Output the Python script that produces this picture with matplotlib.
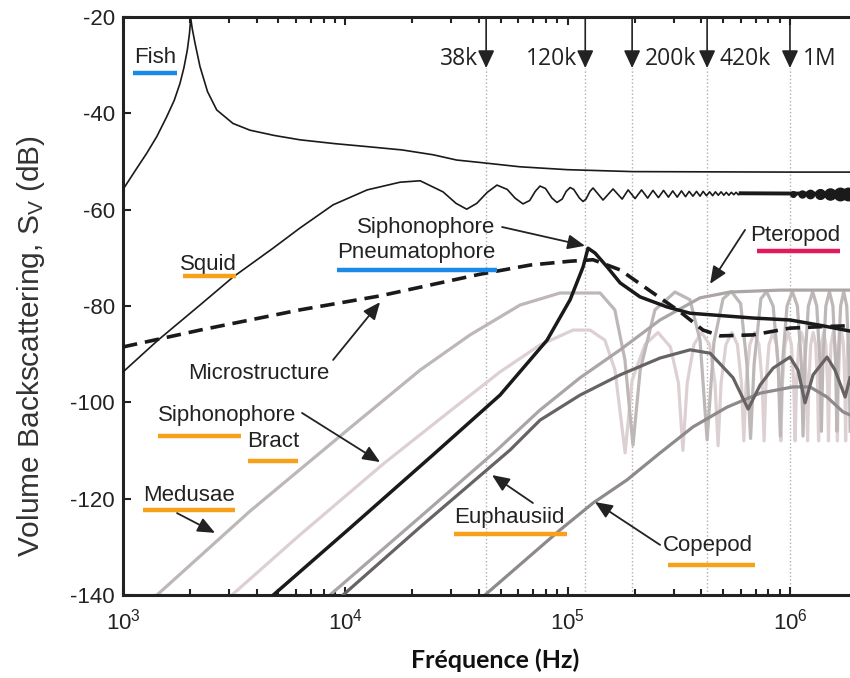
import matplotlib
matplotlib.use('Agg')
import matplotlib.pyplot as plt

plt.rcParams['font.family'] = ['Liberation Sans', 'DejaVu Sans']
plt.rcParams['mathtext.default'] = 'regular'
plt.rcParams['axes.unicode_minus'] = False

# ---------------- data (Hz, dB) ----------------
fish_f = [1000, 1150, 1278, 1420, 1573, 1700, 1804, 1880, 1946, 1990, 2017, 2050, 2110,
          2220, 2400, 2640, 3124, 3724, 4800, 6256, 9000, 12480, 18000, 24810, 31700,
          40370, 61090, 100000, 196700, 1000000, 1860000]
fish_db = [-55.8, -51.5, -48.3, -44.8, -40.7, -37.3, -33.8, -30.5, -26.9, -23.5, -20.3,
           -22.5, -25.5, -30.3, -35.5, -39.3, -42.1, -43.5, -44.6, -45.5, -46.3, -46.9,
           -47.6, -48.6, -49.7, -50.2, -51.1, -51.7, -52.1, -52.2, -52.2]

squid_f = [1000, 1436, 2220, 3124, 4730, 6256, 8810, 12530, 17620, 21700,
           27500, 31500, 35150, 39000, 43500, 48100, 53500, 58000, 62970, 67500, 71500,
           75100, 79500, 85000, 89550, 94500, 98500, 102600, 106500, 113000, 117300,
           121000, 126000, 130100, 144300, 160000, 175900, 187100,
           201000, 215000, 229000, 242000, 256000, 270000, 284000, 297000, 311000, 325000,
           339000, 352000, 366000, 380000, 394000, 407000, 421000, 435000, 449000, 462000,
           476000, 490000, 504000, 517000, 531000, 545000, 559000, 572000, 586000, 600000]
squid_db = [-93.7, -87.1, -79.8, -74.0, -68.0, -63.8, -59.0, -55.9, -54.3, -54.0,
            -56.3, -58.7, -59.9, -58.7, -56.4, -54.9, -55.8, -57.6, -58.8, -58.1, -56.2,
            -55.1, -55.6, -57.6, -58.5, -57.8, -56.2, -55.4, -55.8, -57.6, -58.3,
            -57.8, -56.2, -55.5, -58.0, -55.7, -57.8, -55.9,
            -57.7, -55.9, -57.6, -56.0, -57.5, -56.0, -57.4, -56.1, -57.4, -56.1,
            -57.3, -56.2, -57.2, -56.2, -57.2, -56.2, -57.1, -56.3, -57.1, -56.3,
            -57.0, -56.3, -57.0, -56.4, -57.0, -56.4, -56.9, -56.4, -56.9, -56.5]
squid_band_f = [600000, 1860000]
squid_band_db = [-56.6, -56.7]
squid_blob_f = [1030000, 1130000, 1230000, 1360000, 1510000, 1680000, 1830000]
squid_blob_size = [4, 5, 6, 7, 8, 9, 9]

pneu_f = [4480, 10500, 24810, 49630, 80770, 102600, 117300, 123500, 132800, 150000,
          172200, 211600, 280000, 355500, 682700, 1000000, 1365000, 1862000]
pneu_db = [-141, -126.1, -110.9, -98.5, -87.1, -78.7, -71.9, -68.0, -69.0, -71.8,
           -75.2, -78.1, -80.2, -81.5, -82.5, -82.9, -84.0, -85.2]

micro_f = [1000, 2220, 6256, 14330, 40370, 67800, 102600, 130100, 172200, 242300,
           320400, 406400, 485000, 682700, 1000000, 1365000, 1862000]
micro_db = [-88.5, -85.0, -80.8, -77.9, -73.4, -71.5, -70.7, -70.4, -72.5, -77.3,
            -81.2, -85.0, -86.2, -86.0, -84.6, -84.3, -84.1]

medusae_f = [1422, 3724, 10500, 21700, 36400, 61100, 92400, 140000, 163000, 181000,
             196700, 212000, 247000, 304000, 355000, 394000, 424000, 455000, 500000,
             545000, 600000, 640000, 665000, 690000, 740000, 785000, 840000, 885000,
             905000, 925000, 970000, 1025000, 1080000, 1125000, 1145000, 1165000,
             1210000, 1265000, 1320000, 1365000, 1385000, 1405000, 1450000, 1505000,
             1560000, 1605000, 1625000, 1645000, 1690000, 1745000, 1800000, 1845000, 1865000]
medusae_db = [-140, -122.6, -105.3, -93.3, -86.0, -79.8, -77.3, -77.3, -80.8, -91.2,
              -108.9, -93.3, -80.8, -77.1, -78.7, -87.1, -107.8, -87.5, -78.5,
              -77.0, -79.5, -92, -107.5, -92, -78.5, -77.0, -80, -92,
              -107, -92, -80, -77.0, -80, -92, -107, -92,
              -80, -77, -80, -92, -106, -92, -80, -77,
              -80, -92, -106, -92, -80, -77, -80, -92, -106]

bract_f = [3090, 6256, 14800, 29600, 49600, 75100, 105700, 126200, 147100, 163300,
           181300, 195000, 222700, 255000, 290000, 315000, 330000, 345000, 370000,
           400000, 435000, 460000, 475000, 490000, 515000, 548000, 580000, 605000,
           620000, 635000, 660000, 692000, 725000, 750000, 765000, 780000, 805000,
           838000, 870000, 895000, 910000, 925000, 950000, 982000, 1015000, 1040000,
           1055000, 1070000, 1095000, 1128000, 1160000, 1185000, 1200000, 1215000,
           1240000, 1272000, 1305000, 1330000, 1345000, 1360000, 1385000, 1418000,
           1450000, 1475000, 1490000, 1505000, 1530000, 1562000, 1595000, 1620000,
           1635000, 1650000, 1675000, 1708000, 1740000, 1765000, 1780000, 1795000,
           1820000, 1850000]
bract_db = [-140, -127.5, -112.8, -101.8, -93.7, -88.1, -85.0, -85.0, -87.1, -93.3,
            -110.5, -95.4, -88.0, -85.5, -88.5, -96, -110, -96, -88,
            -85.5, -88, -96, -109, -96, -88, -85.5, -88, -96,
            -108, -96, -88, -85.5, -88, -96, -108, -96, -88,
            -85.5, -88, -96, -108, -96, -88, -85.5, -88, -96,
            -108, -96, -88, -85.5, -88, -96, -108, -96,
            -88, -85.5, -88, -96, -108, -96, -88, -85.5,
            -88, -96, -108, -96, -88, -85.5, -88, -96,
            -108, -96, -88, -85.5, -88, -96, -108, -96,
            -88, -85.5]

ptero_f = [8530, 21700, 48100, 75100, 113700, 172200, 260500, 394300, 538000, 902200, 1862000]
ptero_db = [-140, -123.8, -109.9, -101.6, -94.9, -89.1, -82.9, -78.3, -77.1, -76.7, -76.7]

euph_f = [9770, 21700, 55070, 75100, 113700, 172200, 260500, 355500, 437200, 554800,
          648500, 734300, 839700, 1000000, 1087000, 1169000, 1270000, 1468000, 1594000,
          1771000, 1862000]
euph_db = [-140, -125.9, -109.9, -103.7, -98.5, -94.3, -90.8, -89.1, -89.8, -94.9,
           -101.4, -96.4, -92.9, -90.6, -93.3, -100.1, -94.3, -90.6, -93.3,
           -98.9, -94.9]

cope_f = [42480, 92400, 130100, 185000, 260500, 366300, 521000, 734300, 1032000,
          1230000, 1468000, 1734000, 1862000]
cope_db = [-140, -126.5, -120.9, -116.1, -110.5, -105.1, -101.0, -98.1, -96.8,
           -96.8, -98.9, -102.0, -102.6]

# sonar frequencies marked at the top
sonar_f = [43000, 120000, 195000, 424000, 1000000]
sonar_lab = ['38k', '120k', '200k', '420k', '1M']
sonar_side = ['left', 'left', 'right', 'right', 'right']

# ---------------- figure ----------------
fig = plt.figure(figsize=(8.5, 6.78), dpi=100)
ax = fig.add_axes([123 / 850, 83 / 678, 747 / 850, 578 / 678])
ax.set_xscale('log')
ax.set_xlim(1e3, 10 ** 6.36)
ax.set_ylim(-140, -20)

ax.vlines(sonar_f, -140, -30.6, colors='#b5adad', linestyles=':', lw=1.0, zorder=1)

ax.plot(bract_f, bract_db, color='#ddd0d2', lw=2.3, zorder=2)
ax.plot(medusae_f, medusae_db, color='#bdb7b7', lw=2.3, zorder=2)
ax.plot(ptero_f, ptero_db, color='#aba5a6', lw=2.3, zorder=2)
ax.plot(cope_f, cope_db, color='#8e898a', lw=2.3, zorder=2)
ax.plot(euph_f, euph_db, color='#676364', lw=2.3, zorder=3)

ax.plot(fish_f, fish_db, color='#1a1a1a', lw=1.2, zorder=4)
ax.plot(squid_f, squid_db, color='#1a1a1a', lw=1.2, zorder=4)
ax.plot(squid_band_f, squid_band_db, color='#1a1a1a', lw=2.8, zorder=4)
for f, s in zip(squid_blob_f, squid_blob_size):
    ax.plot([f], [-56.7], 'o', color='#1a1a1a', ms=s, zorder=4)
ax.plot(pneu_f, pneu_db, color='#1a1a1a', lw=2.5, zorder=5)
ax.plot(micro_f, micro_db, color='#1a1a1a', lw=2.6, ls=(0, (4, 2.2)), zorder=5)

# sonar arrows + labels
for f, lab, side in zip(sonar_f, sonar_lab, sonar_side):
    ax.annotate('', xy=(f, -30.6), xytext=(f, -20),
                arrowprops=dict(arrowstyle='-|>,head_length=0.6,head_width=0.28',
                                mutation_scale=18, color='#222222', lw=1.2,
                                shrinkA=0, shrinkB=0), zorder=6)
    dx = -6 if side == 'left' else 9
    ax.annotate(lab, xy=(f, -28.8), xytext=(dx, 0), textcoords='offset points',
                ha='right' if side == 'left' else 'left', va='center',
                fontsize=16.5, family=['Open Sans', 'DejaVu Sans'], color='#222222')

# labels: text, position, underline colour, underline extent
labels = [
    ('Fish', 1121, -28.5, '#1b8ae6', (1109, 1750), -31.6),
    ('Squid', 1804, -71.3, '#f7a01a', (1862, 3223), -73.8),
    ('Siphonophore', 11290, -63.8, None, None, None),
    ('Pneumatophore', 9183, -68.8, '#1b8ae6', (9183, 48100), -72.5),
    ('Pteropod', 661600, -65.3, '#e5185a', (711000, 1680000), -68.6),
    ('Microstructure', 1960, -94.1, None, None, None),
    ('Siphonophore', 1436, -102.8, '#f7a01a', (1436, 3396), -107.0),
    ('Bract', 3613, -108.2, '#f7a01a', (3650, 6120), -112.2),
    ('Medusae', 1230, -119.4, '#f7a01a', (1230, 3190), -122.3),
    ('Euphausiid', 30830, -124.0, '#f7a01a', (30830, 99300), -127.3),
    ('Copepod', 268600, -129.8, '#f7a01a', (283200, 696700), -133.8),
]
for txt, x, y, col, ext, yb in labels:
    ax.text(x, y, txt, fontsize=16, color='#222222', ha='left', va='center', zorder=7)
    if col is not None:
        ax.plot(ext, [yb, yb], color=col, lw=3.2, solid_capstyle='butt', zorder=7)

# pointer arrows: (start, tip)
pointers = [
    ((50700, -63.6), (119700, -67.5)),
    ((628000, -64.2), (437200, -75.4)),
    ((8810, -91.2), (14330, -79.2)),
    ((6385, -102.2), (14330, -112.4)),
    ((1750, -123.0), (2594, -127.1)),
    ((69800, -120.9), (45700, -115.1)),
    ((260500, -129.6), (132800, -120.7)),
]
for start, tip in pointers:
    ax.annotate('', xy=tip, xytext=start,
                arrowprops=dict(arrowstyle='-|>,head_length=0.7,head_width=0.3',
                                mutation_scale=15, color='#222222', lw=1.3,
                                shrinkA=0, shrinkB=0), zorder=7)

# axes styling
for s in ['left', 'bottom', 'top']:
    ax.spines[s].set_linewidth(2.2)
    ax.spines[s].set_color('#222222')
ax.spines['right'].set_visible(False)
ax.set_yticks([-20, -40, -60, -80, -100, -120, -140])
ax.tick_params(which='both', direction='in', top=True, right=False, width=1.5,
               colors='#222222', labelsize=16)
ax.tick_params(which='major', length=6)
ax.tick_params(which='minor', length=4)
ax.tick_params(axis='x', pad=10)
ax.tick_params(axis='y', pad=6)

fig.text(0.036, 0.49, 'Volume Backscattering, S$_V$ (dB)', rotation=90,
         ha='center', va='center', fontsize=21.5, color='#333333')
fig.text(0.582, 0.026, 'Fréquence (Hz)', ha='center', va='center', fontsize=18,
         fontweight='bold', family=['Lato', 'DejaVu Sans'], color='#111111')

fig.savefig('out.png', dpi=100, facecolor='white')
